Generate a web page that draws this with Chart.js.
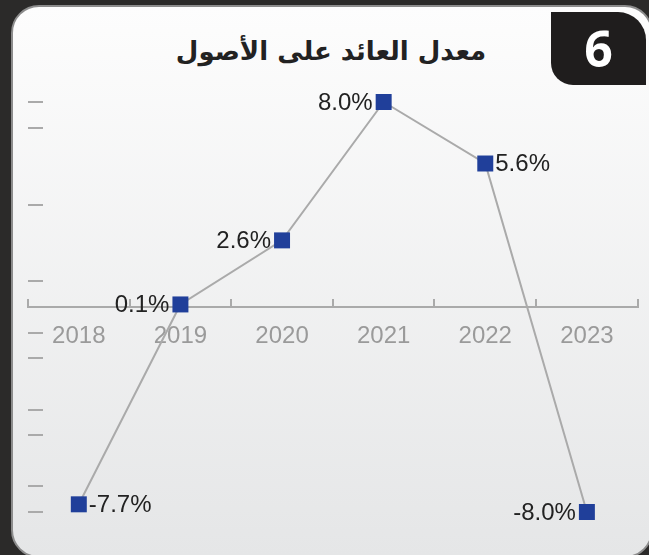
<!DOCTYPE html>
<html>
<head>
  <meta charset="utf-8">
  <title>ROA</title>
  <style>
    body { margin: 0; width: 649px; height: 555px; overflow: hidden; position: relative; background: #2b2a29; }
    .panel { position: absolute; left: 11px; top: 5px; width: 642px; height: 553px; box-sizing: border-box; border: 2px solid #8c8c8c; border-radius: 28px; background: linear-gradient(#fdfdfd, #e5e6e7); }
    .tab { position: absolute; left: 551px; top: 12px; width: 95px; height: 73px; background: #1f1d1d; border-radius: 0 28px 0 22px; color: #fff; font: 700 50px 'Open Sans', sans-serif; text-align: center; line-height: 73px; }
    .title { position: absolute; left: 0; width: 662px; top: 36px; text-align: center; font: 700 26px 'DejaVu Sans', sans-serif; color: #222; direction: rtl; }
    canvas { position: absolute; left: 0; top: 0; }
  </style>
</head>
<body>
  <div class="panel"></div>
  <div class="tab">6</div>
  <div class="title">معدل العائد على الأصول</div>
  <canvas id="chart" width="649" height="555"></canvas>
  <script src="https://cdn.jsdelivr.net/npm/chart.js"></script>
  <script>
    const years = ['2018', '2019', '2020', '2021', '2022', '2023'];
    const roaValues = [-7.7, 0.1, 2.6, 8.0, 5.6, -8.0];
    const labelSides = ['right', 'left', 'left', 'left', 'right', 'left'];
    const yDashValues = [8, 7, 4, 1, -1, -2, -4, -5, -7, -8];

    // little dashes on the left, no labels
    const yDashes = {
      id: 'yDashes',
      beforeDatasetsDraw(chart) {
        const y = chart.scales.y, ctx = chart.ctx;
        ctx.save();
        ctx.strokeStyle = '#aaaaaa';
        ctx.lineWidth = 2;
        yDashValues.forEach(v => {
          const py = Math.round(y.getPixelForValue(v));
          ctx.beginPath();
          ctx.moveTo(28, py);
          ctx.lineTo(43, py);
          ctx.stroke();
        });
        ctx.restore();
      }
    };

    const valueLabels = {
      id: 'valueLabels',
      afterDatasetsDraw(chart) {
        const ctx = chart.ctx;
        const pts = chart.getDatasetMeta(0).data;
        ctx.save();
        ctx.font = '24px "Liberation Sans", Arial, sans-serif';
        ctx.fillStyle = '#222222';
        ctx.textBaseline = 'middle';
        pts.forEach((p, i) => {
          const txt = roaValues[i].toFixed(1) + '%';
          if (labelSides[i] === 'right') {
            ctx.textAlign = 'left';
            ctx.fillText(txt, p.x + 10, p.y + 1);
          } else {
            ctx.textAlign = 'right';
            ctx.fillText(txt, p.x - 11, p.y + 1);
          }
        });
        ctx.restore();
      }
    };

    new Chart(document.getElementById('chart'), {
      type: 'line',
      data: {
        labels: years,
        datasets: [{
          data: roaValues,
          borderColor: '#aaaaaa',
          borderWidth: 2,
          tension: 0,
          pointStyle: 'rect',
          pointRadius: 11.3,
          pointBackgroundColor: '#203f9a',
          pointBorderColor: '#203f9a',
          pointBorderWidth: 0,
          clip: false
        }]
      },
      options: {
        responsive: false,
        animation: false,
        layout: { padding: { left: 28, right: 9, top: 102, bottom: 43 } },
        plugins: { legend: { display: false }, tooltip: { enabled: false } },
        scales: {
          x: {
            position: { y: 0 },
            offset: true,
            grid: { display: true, offset: true, drawOnChartArea: false, drawTicks: true, tickLength: -9, color: '#aaaaaa', lineWidth: 2 },
            border: { display: true, color: '#aaaaaa', width: 2 },
            ticks: { color: '#9a9a9a', padding: 24, font: { size: 24, family: '"Liberation Sans", Arial, sans-serif' } }
          },
          y: {
            display: false,
            min: -8,
            max: 8
          }
        }
      },
      plugins: [yDashes, valueLabels]
    });
  </script>
</body>
</html>
